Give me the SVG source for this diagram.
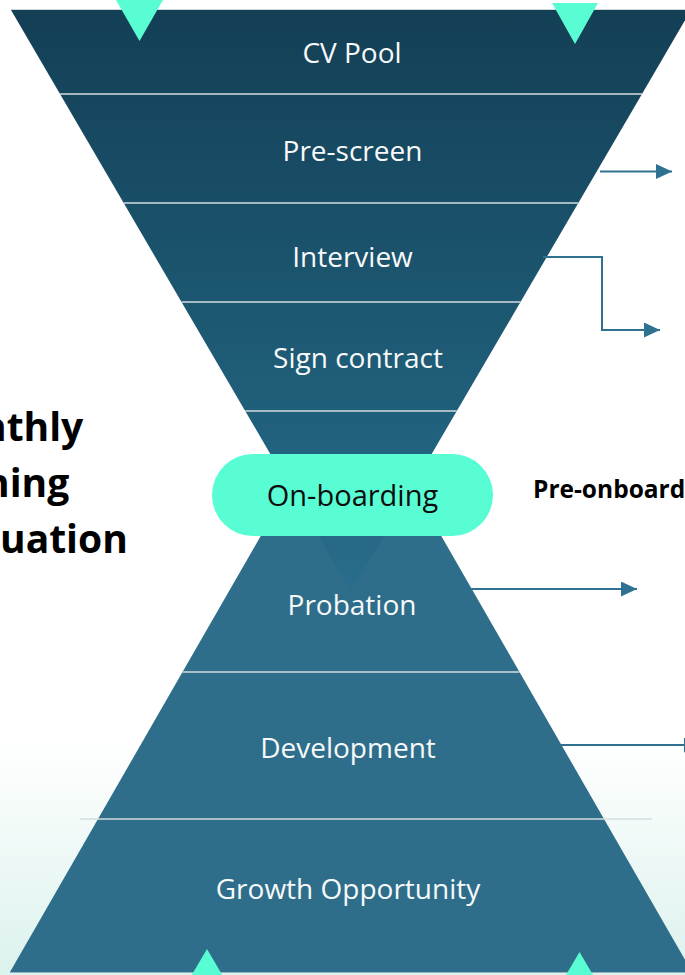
<svg xmlns="http://www.w3.org/2000/svg" width="685" height="975" viewBox="0 0 685 975">
  <defs>
    <linearGradient id="bgGrad" x1="0" y1="740" x2="0" y2="975" gradientUnits="userSpaceOnUse">
      <stop offset="0" stop-color="#ffffff"/>
      <stop offset="1" stop-color="#dcf2ed"/>
    </linearGradient>
    <linearGradient id="topGrad" x1="0" y1="10" x2="0" y2="592" gradientUnits="userSpaceOnUse">
      <stop offset="0" stop-color="#133f55"/>
      <stop offset="0.75" stop-color="#21627e"/>
      <stop offset="1" stop-color="#2a6d8c"/>
    </linearGradient>
    <marker id="arrowHead" markerUnits="userSpaceOnUse" markerWidth="17" markerHeight="16" refX="16" refY="7.5" orient="auto">
      <path d="M0,0 L16,7.5 L0,15 Z" fill="#2e7190"/>
    </marker>
    <style>
      .lbl { font-family: "Open Sans", "Liberation Sans", sans-serif; font-size: 28px; fill: #f7f9fa; text-anchor: middle; }
      .pillText { font-family: "Open Sans", "Liberation Sans", sans-serif; font-size: 29px; fill: #0d0d0d; text-anchor: middle; }
      .side { font-family: "Open Sans", "Liberation Sans", sans-serif; font-weight: 700; fill: #000000; }
      .lower { fill: #2e6e8a; }
      .upper { fill: url(#topGrad); }
      .div { stroke: #d3dde1; stroke-width: 1.6; }
      .conn { fill: none; stroke: #2e7190; stroke-width: 2; marker-end: url(#arrowHead); }
      .mark { fill: #58fdd3; }
    </style>
  </defs>

  <rect x="0" y="0" width="685" height="975" fill="#ffffff"/>
  <rect x="0" y="740" width="685" height="235" fill="url(#bgGrad)"/>

  <!-- lower funnel (drawn first) -->
  <g id="probation">
    <polygon class="lower" points="351,379 519.5,672 182.5,672"/>
  </g>
  <g id="development">
    <polygon class="lower" points="182.5,672 519.5,672 604,819 98,819"/>
  </g>
  <g id="growth-opportunity">
    <polygon class="lower" points="98,819 604,819 692,972 10,972"/>
  </g>

  <!-- upper funnel -->
  <g id="cv-pool">
    <polygon class="upper" points="11,10 691,10 642,94 60,94"/>
  </g>
  <g id="pre-screen">
    <polygon class="upper" points="60,94 642,94 578.3,203 123.7,203"/>
  </g>
  <g id="interview">
    <polygon class="upper" points="123.7,203 578.3,203 520.5,302 181.5,302"/>
  </g>
  <g id="sign-contract">
    <polygon class="upper" points="181.5,302 520.5,302 456.8,411 245.2,411"/>
  </g>
  <g id="pre-onboarding-band">
    <polygon class="upper" points="245.2,411 456.8,411 351,592"/>
  </g>

  <!-- dividers -->
  <g id="dividers">
    <line x1="11" y1="9.5" x2="685" y2="9.5" stroke="#cfd7db" stroke-width="1"/>
    <line class="div" x1="60" y1="94" x2="642" y2="94"/>
    <line class="div" x1="123.7" y1="203" x2="578.3" y2="203"/>
    <line class="div" x1="181.5" y1="302" x2="520.5" y2="302"/>
    <line class="div" x1="245.2" y1="411" x2="456.8" y2="411" stroke="#f2f6f7"/>
    <line class="div" x1="182.5" y1="672" x2="519.5" y2="672" stroke="#e9eff1"/>
    <line class="div" x1="80" y1="819" x2="652" y2="819" stroke="#f6f9f9"/>
    <line x1="10" y1="972.5" x2="685" y2="972.5" stroke="#8fb3c1" stroke-width="1"/>
  </g>

  <!-- labels -->
  <g id="labels">
    <text class="lbl" x="352" y="63">CV Pool</text>
    <text class="lbl" x="352.5" y="161">Pre-screen</text>
    <text class="lbl" x="352.5" y="267">Interview</text>
    <text class="lbl" x="358" y="368">Sign contract</text>
    <text class="lbl" x="352" y="615">Probation</text>
    <text class="lbl" x="348" y="758">Development</text>
    <text class="lbl" x="348" y="899">Growth Opportunity</text>
  </g>

  <!-- teal markers -->
  <g id="markers">
    <polygon class="mark" points="116,0 163,0 139.5,41"/>
    <polygon class="mark" points="552,3 598,3 575,44"/>
    <polygon class="mark" points="207,949 230.5,989 183.5,989"/>
    <polygon class="mark" points="579.5,952 603,992 556,992"/>
  </g>

  <!-- on-boarding pill -->
  <g id="on-boarding">
    <rect x="212" y="454" width="281" height="82" rx="41" ry="41" fill="#58fdd3"/>
    <text class="pillText" x="352.5" y="506">On-boarding</text>
  </g>

  <!-- side texts -->
  <g id="left-text">
    <text class="side" font-size="39" x="-19" y="441">nthly</text>
    <text class="side" font-size="39" x="-16" y="497">ning</text>
    <text class="side" font-size="39" x="0" y="553">uation</text>
  </g>
  <g id="right-text">
    <text class="side" font-size="24.5" x="533" y="498">Pre-onboard</text>
  </g>

  <!-- connectors -->
  <g id="connectors">
    <path class="conn" d="M600,171.5 L672,171.5"/>
    <path class="conn" d="M543,257 L602,257 L602,330 L660,330"/>
    <path class="conn" d="M470,589 L637,589"/>
    <path class="conn" d="M559,745 L700,745"/>
  </g>
</svg>
